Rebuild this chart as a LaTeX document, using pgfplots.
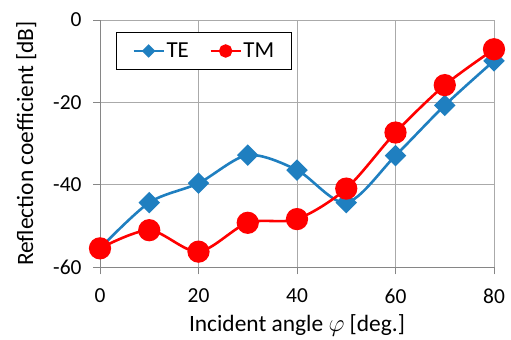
\documentclass[border=0pt]{standalone}
\usepackage{pgfplots}
\pgfplotsset{compat=1.18}
\usepackage{fontspec}
\setmainfont{Carlito}
\definecolor{teblue}{RGB}{31,127,192}
\definecolor{tmred}{RGB}{255,0,0}
\definecolor{gridgray}{RGB}{170,170,170}
\definecolor{axgray}{RGB}{134,134,134}
\begin{document}
\begin{tikzpicture}
\begin{axis}[
  scale only axis,
  width=394bp, height=247.3bp,
  xmin=0, xmax=80, ymin=-60, ymax=0,
  axis lines*=left,
  axis line style={axgray, line width=0.9bp},
  xtick={0,20,40,60,80}, xticklabels={0,20,40,60,80},
  ytick={-60,-40,-20,0}, yticklabels={-60,-40,-20,0},
  tick style={axgray, line width=0.9bp},
  tick align=outside, major tick length=7bp,
  grid=major,
  major grid style={gridgray, line width=0.9bp},
  tick label style={font=\fontsize{21.5}{24}\selectfont},
  label style={font=\fontsize{23.5}{26}\selectfont},
  xlabel={Incident angle $\varphi$ [deg.]},
  ylabel={Reflection coefficient [dB]},
  yticklabel style={xshift=-8bp},
  xticklabel style={yshift=-11bp},
  xlabel style={yshift=-4bp},
  ylabel style={yshift=10bp},
  clip=false,
  legend columns=2,
  legend style={at={(rel axis cs:0.0406,0.9515)}, anchor=north west,
    draw=black, line width=0.8bp, font=\fontsize{23}{26}\selectfont,
    inner xsep=16bp, inner ysep=8.5bp,
    nodes={inner xsep=1.5bp},
    /tikz/every even column/.append style={column sep=19bp}},
  legend image code/.code={\draw[#1, /tikz/every mark/.append style={scale=0.55}, mark repeat=2, mark phase=2] plot coordinates {(0bp,0bp)(15bp,0bp)(30bp,0bp)};},
]
\addplot[teblue, line width=2.6bp, smooth, tension=0.5, mark=square*,
  mark options={rotate=45, mark size=6.3bp, solid, fill=teblue}]
  coordinates {(0,-55.4)(10,-44.3)(20,-39.6)(30,-32.8)(40,-36.4)(50,-44.3)(60,-32.9)(70,-20.7)(80,-9.9)};
\addlegendentry{TE}
\addplot[tmred, line width=2.6bp, smooth, tension=0.5, mark=*,
  mark options={mark size=9.8bp, solid, fill=tmred}]
  coordinates {(0,-55.4)(10,-51.0)(20,-56.2)(30,-49.2)(40,-48.3)(50,-40.9)(60,-27.3)(70,-15.8)(80,-7.1)};
\addlegendentry{TM}
\end{axis}
\path (current axis.south west)+(-100bp,-70.7bp) coordinate (bbA);
\path (current axis.north east)+(17bp,20bp) coordinate (bbB);
\path (bbA) rectangle (bbB);
\end{tikzpicture}
\end{document}
